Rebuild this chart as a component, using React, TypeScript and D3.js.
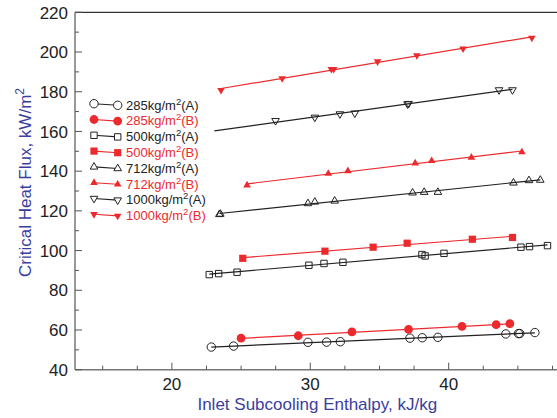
import React from 'react';
import * as d3 from 'd3';

// ---- data ----
const xTickLabels = [20, 30, 40];
const yTickLabels = [40, 60, 80, 100, 120, 140, 160, 180, 200, 220];

const x285A = [22.85, 24.46, 29.83, 31.18, 32.17, 37.2, 38.09, 39.22, 44.13, 45.04, 45.14, 46.23];
const y285A = [51.4, 51.9, 53.8, 53.9, 54.1, 55.9, 56.1, 56.3, 58.0, 58.2, 58.2, 58.7];

const x285B = [25.0, 29.13, 33.01, 37.1, 40.96, 43.43, 44.42];
const y285B = [55.9, 57.1, 59.0, 60.3, 61.8, 62.7, 63.2];

const x500A = [22.7, 23.38, 24.71, 29.9, 30.99, 32.36, 38.07, 38.3, 39.66, 45.22, 45.84, 47.14];
const y500A = [87.9, 88.4, 89.1, 92.6, 93.5, 94.1, 98.0, 97.3, 98.6, 101.7, 102.0, 102.5];

const x500B = [25.12, 31.06, 34.54, 37.0, 41.71, 44.61];
const y500B = [96.1, 99.7, 101.7, 103.7, 105.7, 106.6];

const x712A = [23.43, 23.5, 29.83, 30.33, 31.76, 37.39, 38.23, 39.22, 44.68, 45.8, 46.62];
const y712A = [118.2, 118.4, 123.7, 124.5, 125.0, 129.1, 129.4, 129.4, 134.1, 135.3, 135.5];

const x712B = [25.43, 31.3, 32.72, 37.58, 38.77, 41.64, 45.29];
const y712B = [132.9, 138.8, 140.1, 144.0, 145.2, 146.9, 149.6];

const x1000A = [27.49, 30.33, 32.14, 33.22, 37.03, 37.1, 43.64, 44.61];
const y1000A = [165.4, 167.1, 168.8, 169.2, 173.8, 174.0, 180.9, 180.9];

const x1000B = [23.55, 27.97, 31.52, 31.69, 34.86, 37.7, 41.04, 46.01];
const y1000B = [180.8, 186.7, 191.4, 191.4, 195.2, 198.3, 201.7, 207.1];

// fit-line x ranges (data units)
const fitStart = [22.85, 25.0, 22.7, 25.12, 23.43, 25.43, 23.07, 23.55];
const fitEnd = [46.23, 44.42, 47.14, 44.61, 46.62, 45.29, 44.61, 46.01];

const massFluxLabels = ['285', '285', '500', '500', '712', '712', '1000', '1000'];
const caseLabels = ['A', 'B', 'A', 'B', 'A', 'B', 'A', 'B'];
const shapes = ['circle', 'circle', 'square', 'square', 'up', 'up', 'down', 'down'];

const xsAll = [x285A, x285B, x500A, x500B, x712A, x712B, x1000A, x1000B];
const ysAll = [y285A, y285B, y500A, y500B, y712A, y712B, y1000A, y1000B];

// ---- styling ----
const W = 557;
const H = 418;
const RED = '#ec2a2e';
const BLACK = '#222222';
const BLUE = '#3b3e9e';
const FONT = '"Liberation Sans", Arial, sans-serif';

const xScale = d3.scaleLinear().domain([13, 48]).range([75, 75 + 35 * 13.84]);
const yScale = d3.scaleLinear().domain([40, 220]).range([369.7, 12.3]);

function markerPath(shape: string, cx: number, cy: number, filled: boolean): string {
  if (shape === 'circle') {
    const r = filled ? 4.4 : 4.2;
    return `M${cx - r},${cy}a${r},${r} 0 1,0 ${2 * r},0a${r},${r} 0 1,0 ${-2 * r},0Z`;
  }
  if (shape === 'square') {
    const h = filled ? 3.6 : 3.2;
    return `M${cx - h},${cy - h}H${cx + h}V${cy + h}H${cx - h}Z`;
  }
  const s = 7.6;
  const hh = (s * Math.sqrt(3)) / 2;
  if (shape === 'up') {
    return `M${cx},${cy - (2 * hh) / 3}L${cx + s / 2},${cy + hh / 3}L${cx - s / 2},${cy + hh / 3}Z`;
  }
  return `M${cx},${cy + (2 * hh) / 3}L${cx + s / 2},${cy - hh / 3}L${cx - s / 2},${cy - hh / 3}Z`;
}

function fit(xs: number[], ys: number[]) {
  const mx = d3.mean(xs) as number;
  const my = d3.mean(ys) as number;
  let num = 0;
  let den = 0;
  xs.forEach((xv, i) => {
    num += (xv - mx) * (ys[i] - my);
    den += (xv - mx) * (xv - mx);
  });
  const b = num / den;
  const a = my - b * mx;
  return (xv: number) => a + b * xv;
}

export default function App() {
  const yTicks = d3.range(40, 221, 10);
  const xTicks = d3.range(15, 48, 2.5);
  const line = d3.line<[number, number]>().x((d) => xScale(d[0])).y((d) => yScale(d[1]));

  return (
    <svg
      width={W}
      height={H}
      style={{ position: 'absolute', left: 0, top: 0, background: '#fff' }}
      fontFamily={FONT}
    >
      {/* fit lines */}
      {xsAll.map((xs, i) => {
        const f = fit(xs, ysAll[i]);
        const isB = caseLabels[i] === 'B';
        const pts: [number, number][] = [
          [fitStart[i], f(fitStart[i])],
          [fitEnd[i], f(fitEnd[i])],
        ];
        return (
          <path
            key={'l' + i}
            d={line(pts) || ''}
            stroke={isB ? RED : BLACK}
            strokeWidth={1.2}
            fill="none"
          />
        );
      })}
      {/* markers */}
      {xsAll.map((xs, i) => {
        const isB = caseLabels[i] === 'B';
        return (
          <g key={'m' + i}>
            {xs.map((xv, j) => (
              <path
                key={j}
                d={markerPath(shapes[i], xScale(xv), yScale(ysAll[i][j]), isB)}
                fill={isB ? RED : 'none'}
                stroke={isB ? 'none' : BLACK}
                strokeWidth={1}
              />
            ))}
          </g>
        );
      })}

      {/* axes */}
      <line x1={75} x2={W} y1={12.3} y2={12.3} stroke="#333" strokeWidth={1.2} />
      <line x1={75} x2={75} y1={12.3} y2={369.7} stroke="#777" strokeWidth={1.5} />
      <line x1={75} x2={W} y1={369.7} y2={369.7} stroke="#777" strokeWidth={1.5} />
      {yTicks.map((t) => {
        const major = t % 20 === 0;
        return (
          <line
            key={'yt' + t}
            x1={75}
            x2={75 + (major ? 7 : 4)}
            y1={yScale(t)}
            y2={yScale(t)}
            stroke="#555"
            strokeWidth={1}
          />
        );
      })}
      {xTicks.map((t) => {
        const major = t % 10 === 0;
        return (
          <line
            key={'xt' + t}
            x1={xScale(t)}
            x2={xScale(t)}
            y1={369.7}
            y2={369.7 - (major ? 7 : 4)}
            stroke="#555"
            strokeWidth={1}
          />
        );
      })}
      {yTickLabels.map((t) => (
        <text
          key={'yl' + t}
          x={68}
          y={yScale(t) + 6.2}
          textAnchor="end"
          fontSize={17}
          fill="#222"
        >
          {t}
        </text>
      ))}
      {xTickLabels.map((t) => (
        <text key={'xl' + t} x={xScale(t)} y={390} textAnchor="middle" fontSize={17} fill="#222">
          {t}
        </text>
      ))}

      {/* axis titles */}
      <text x={317.3} y={410} textAnchor="middle" fontSize={17} fill={BLUE}>
        Inlet Subcooling Enthalpy, kJ/kg
      </text>
      <text transform="translate(31,277) rotate(-90)" fontSize={17} fill={BLUE}>
        Critical Heat Flux, kW/m
        <tspan fontSize={12} dy={-7}>
          2
        </tspan>
      </text>

      {/* legend */}
      {massFluxLabels.map((m, i) => {
        const yc = 104.5 + i * 15.8;
        const isB = caseLabels[i] === 'B';
        const col = isB ? RED : BLACK;
        return (
          <g key={'lg' + i}>
            <line x1={94} x2={117.7} y1={yc - 0.8} y2={yc + 0.8} stroke={col} strokeWidth={1.1} />
            <path
              d={markerPath(shapes[i], 94, yc - 0.8, isB)}
              fill={isB ? RED : '#fff'}
              stroke={isB ? 'none' : BLACK}
            />
            <path
              d={markerPath(shapes[i], 117.7, yc + 0.8, isB)}
              fill={isB ? RED : '#fff'}
              stroke={isB ? 'none' : BLACK}
            />
            <text x={126} y={yc + 5} fontSize={13} fill={col}>
              {m}kg/m
              <tspan fontSize={9.5} dy={-5}>
                2
              </tspan>
              <tspan dy={5}>({caseLabels[i]})</tspan>
            </text>
          </g>
        );
      })}
    </svg>
  );
}
